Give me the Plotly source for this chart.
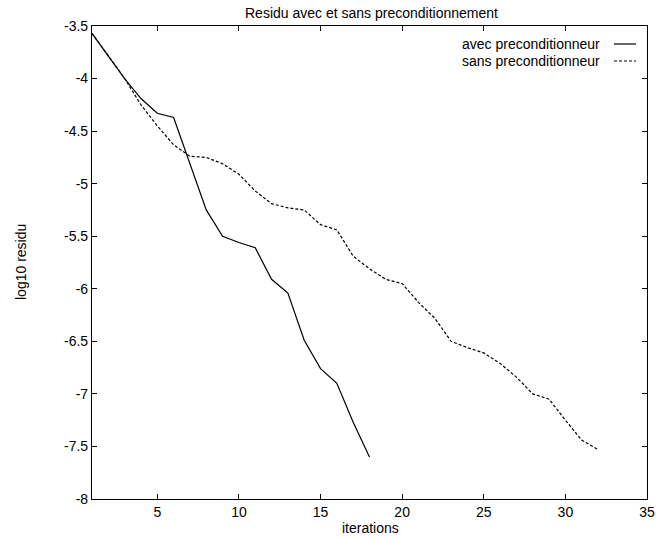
import plotly.graph_objects as go

iterations_avec = list(range(1, 19))
residu_avec = [-3.57, -3.78, -4.0, -4.19, -4.33, -4.37, -4.80, -5.25, -5.50, -5.56,
               -5.61, -5.91, -6.04, -6.49, -6.76, -6.90, -7.27, -7.60]

iterations_sans = list(range(1, 33))
residu_sans = [-3.57, -3.78, -4.0, -4.25, -4.45, -4.63, -4.74, -4.75, -4.81, -4.91,
               -5.07, -5.19, -5.23, -5.25, -5.39, -5.44, -5.69, -5.81, -5.91, -5.95,
               -6.13, -6.28, -6.50, -6.56, -6.61, -6.71, -6.84, -7.00, -7.05, -7.25,
               -7.44, -7.53]

x_ticks = [5, 10, 15, 20, 25, 30, 35]
y_ticks = [-3.5, -4, -4.5, -5, -5.5, -6, -6.5, -7, -7.5, -8]
y_tick_labels = ["-3.5", "-4", "-4.5", "-5", "-5.5", "-6", "-6.5", "-7", "-7.5", "-8"]

names = ["avec preconditionneur", "sans preconditionneur"]
title = "Residu avec et sans preconditionnement"
x_title = "iterations"
y_title = "log10 residu"

FONT = "Liberation Sans, Arial, sans-serif"
FS = 14
dash_style = "3px,2px"

fig = go.Figure()
fig.add_trace(go.Scatter(x=iterations_avec, y=residu_avec, mode="lines", name=names[0],
                         line=dict(color="black", width=1.2), showlegend=False))
fig.add_trace(go.Scatter(x=iterations_sans, y=residu_sans, mode="lines", name=names[1],
                         line=dict(color="black", width=1.2, dash=dash_style), showlegend=False))

W, H = 656, 539
ml, mr, mt, mb = 92, 9, 26, 40
pw, ph = W - ml - mr, H - mt - mb

def px_x(p):
    return (p - ml) / pw

def px_y(p):
    return 1 - (p - mt) / ph

# legend (gnuplot style: text right-aligned, sample on the right)
for i, (nm, dsh) in enumerate(zip(names, ["solid", dash_style])):
    yy = 44 + i * 17
    fig.add_annotation(x=px_x(602), y=px_y(yy), xref="paper", yref="paper",
                       text=nm, showarrow=False, xanchor="right", yanchor="middle",
                       font=dict(family=FONT, size=FS, color="black"))
    fig.add_shape(type="line", xref="paper", yref="paper",
                  x0=px_x(614), x1=px_x(636), y0=px_y(yy), y1=px_y(yy),
                  line=dict(color="black", width=1.2, dash=dsh))

# title and axis titles
fig.add_annotation(x=px_x(371), y=px_y(13), xref="paper", yref="paper", text=title,
                   showarrow=False, xanchor="center", yanchor="middle",
                   font=dict(family=FONT, size=FS, color="black"))
fig.add_annotation(x=px_x(370), y=px_y(528), xref="paper", yref="paper", text=x_title,
                   showarrow=False, xanchor="center", yanchor="middle",
                   font=dict(family=FONT, size=FS, color="black"))
fig.add_annotation(x=px_x(21), y=px_y(262), xref="paper", yref="paper", text=y_title,
                   showarrow=False, xanchor="center", yanchor="middle", textangle=-90,
                   font=dict(family=FONT, size=FS, color="black"))

fig.update_layout(
    width=W, height=H,
    margin=dict(l=ml, r=mr, t=mt, b=mb, autoexpand=False),
    paper_bgcolor="white", plot_bgcolor="white",
    font=dict(family=FONT, size=FS, color="black"),
    xaxis=dict(range=[1, 35], tickvals=x_ticks, ticktext=[str(v) for v in x_ticks],
               ticks="inside", ticklen=5, tickcolor="black", tickwidth=1,
               showline=True, linecolor="black", linewidth=1.2, mirror="ticks",
               showgrid=False, zeroline=False, automargin=False,
               tickfont=dict(family=FONT, size=FS)),
    yaxis=dict(range=[-8, -3.5], tickvals=y_ticks, ticktext=y_tick_labels,
               ticks="inside", ticklen=5, tickcolor="black", tickwidth=1,
               showline=True, linecolor="black", linewidth=1.2, mirror="ticks",
               showgrid=False, zeroline=False, automargin=False,
               tickfont=dict(family=FONT, size=FS)),
)

fig.write_html("out.html", config={"displayModeBar": False},
               post_script="document.body.style.margin='0';document.body.style.overflow='hidden';")
